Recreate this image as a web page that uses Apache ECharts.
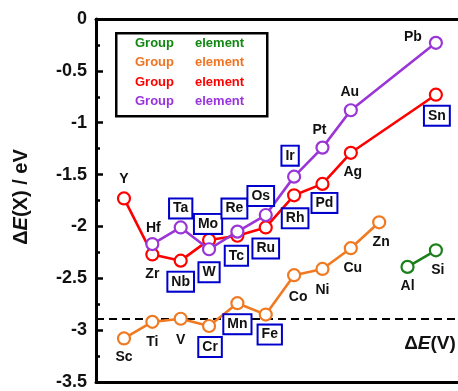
<!DOCTYPE html>
<html>
<head>
<meta charset="utf-8">
<script src="https://cdn.jsdelivr.net/npm/echarts@6/dist/echarts.min.js"></script>
<style>
  html, body { margin: 0; padding: 0; background: #fff; }
  #chart { width: 458px; height: 391px; }
</style>
</head>
<body>
<div id="chart"></div>
<script>
// Column index of each element (periodic-table group number)
const cols3d = [3, 4, 5, 6, 7, 8, 9, 10, 11, 12];
const names3d = ['Sc', 'Ti', 'V', 'Cr', 'Mn', 'Fe', 'Co', 'Ni', 'Cu', 'Zn'];
const values3d = [-3.08, -2.92, -2.89, -2.96, -2.74, -2.85, -2.47, -2.41, -2.21, -1.96];

const colsP = [13, 14];
const namesP = ['Al', 'Si'];
const valuesP = [-2.39, -2.23];

const cols4d = [3, 4, 5, 6, 7, 8, 9, 10, 11, 14];
const names4d = ['Y', 'Zr', 'Nb', 'Mo', 'Tc', 'Ru', 'Rh', 'Pd', 'Ag', 'Sn'];
const values4d = [-1.73, -2.27, -2.33, -2.13, -2.09, -2.01, -1.70, -1.59, -1.29, -0.73];

const cols5d = [4, 5, 6, 7, 8, 9, 10, 11, 14];
const names5d = ['Hf', 'Ta', 'W', 'Re', 'Os', 'Ir', 'Pt', 'Au', 'Pb'];
const values5d = [-2.17, -2.01, -2.22, -2.05, -1.89, -1.52, -1.24, -0.88, -0.23];

// Reference level ΔE(V)
const vacancyLevel = -2.89;

// Y-axis range
const yMin = -3.5, yMax = 0, yStep = 0.5;

// Element names drawn inside a blue frame
const framed = new Set(['Ta', 'Mo', 'Nb', 'W', 'Re', 'Tc', 'Os', 'Ru', 'Ir', 'Rh', 'Pd', 'Sn', 'Cr', 'Mn', 'Fe']);

// Label placement around each marker (pixels from the marker centre)
const labelNudge = {
  Y: [0, -19], Zr: [0, 20], Nb: [0, 21], Mo: [-1, -16], Tc: [-1, 20], Ru: [0, 21],
  Rh: [1, 23], Pd: [2, 19], Ag: [2, 19], Sn: [1, 21],
  Hf: [1, -16], Ta: [0, -19], W: [0, 23], Re: [-3, -23], Os: [-5, -19], Ir: [-4, -21],
  Pt: [-3, -17], Au: [-1, -18], Pb: [-23, -6],
  Sc: [0, 19], Ti: [0, 20], V: [0, 21], Cr: [1, 21], Mn: [0, 21], Fe: [4, 20],
  Co: [4, 22], Ni: [0, 21], Cu: [2, 20], Zn: [2, 20],
  Al: [0, 19], Si: [2, 20]
};

const FONT = '"Liberation Sans", Arial, Helvetica, sans-serif';

function buildData(cols, names, values) {
  return cols.map((c, i) => {
    const name = names[i];
    const boxed = framed.has(name);
    return {
      name: name,
      value: [c, values[i]],
      label: {
        show: true,
        position: 'inside',
        offset: labelNudge[name] || [0, 20],
        formatter: name,
        color: '#111',
        fontFamily: FONT,
        fontWeight: 'bold',
        fontSize: 14,
        lineHeight: 15,
        backgroundColor: boxed ? '#fff' : 'transparent',
        borderColor: boxed ? '#0000CC' : 'transparent',
        borderWidth: boxed ? 2 : 0,
        padding: boxed ? [2, 3, 1, 3] : 0
      }
    };
  });
}

function lineSeries(id, color, data, extra) {
  return Object.assign({
    id: id,
    type: 'line',
    data: data,
    symbol: 'circle',
    symbolSize: 12,
    showAllSymbol: true,
    lineStyle: { color: color, width: 2.6 },
    itemStyle: { color: '#fff', borderColor: color, borderWidth: 2.2 },
    emphasis: { disabled: true },
    animation: false,
    z: 3
  }, extra || {});
}

const COLORS = {
  green: '#1B801B',
  orange: '#F07A22',
  red: '#FF0000',
  purple: '#9A35D6'
};
const LEGEND_COLORS = ['#118811', '#F07422', '#FF0000', '#9933DD'];

const chart = echarts.init(document.getElementById('chart'), null, { renderer: 'canvas' });

const legendRows = LEGEND_COLORS.map((c, i) => [
  {
    type: 'text', left: 135, top: 37 + i * 19.3, z: 10,
    style: { text: 'Group', fill: c, font: 'bold 13px ' + FONT }
  },
  {
    type: 'text', left: 195, top: 37 + i * 19.3, z: 10,
    style: { text: 'element', fill: c, font: 'bold 13px ' + FONT }
  }
]).flat();

chart.setOption({
  animation: false,
  backgroundColor: '#fff',
  grid: { left: 96, right: 0, top: 19, bottom: 4 },
  xAxis: [
    {
      type: 'value', position: 'bottom', min: 2.013, max: 14.78,
      axisLine: { show: true, onZero: false, lineStyle: { color: '#000', width: 3 } },
      axisTick: { show: false }, axisLabel: { show: false }, splitLine: { show: false }
    },
    {
      type: 'value', position: 'top', min: 2.013, max: 14.78,
      axisLine: { show: true, onZero: false, lineStyle: { color: '#000', width: 3 } },
      axisTick: { show: false }, axisLabel: { show: false }, splitLine: { show: false }
    }
  ],
  yAxis: {
    type: 'value', min: yMin, max: yMax, interval: yStep,
    axisLine: { show: true, lineStyle: { color: '#000', width: 3 } },
    axisTick: { show: true, inside: true, length: 7, lineStyle: { color: '#000', width: 2.5 } },
    minorTick: { show: true, splitNumber: 2, length: 4, lineStyle: { color: '#000', width: 2.5 } },
    axisLabel: { color: '#111', fontFamily: FONT, fontWeight: 'bold', fontSize: 18, margin: 9 },
    splitLine: { show: false }
  },
  series: [
    // dashed ΔE(V) level, kept beneath the markers and framed labels
    {
      id: 'level',
      type: 'line',
      data: [],
      z: 1,
      silent: true,
      markLine: {
        z: 1,
        silent: true, symbol: 'none', animation: false,
        label: { show: false },
        lineStyle: { color: '#000', width: 2, type: [8, 5] },
        data: [{ yAxis: vacancyLevel }]
      }
    },
    lineSeries('d3', COLORS.orange, buildData(cols3d, names3d, values3d)),
    lineSeries('p', COLORS.green, buildData(colsP, namesP, valuesP)),
    lineSeries('d4', COLORS.red, buildData(cols4d, names4d, values4d)),
    lineSeries('d5', COLORS.purple, buildData(cols5d, names5d, values5d), { z: 4 })
  ],
  graphic: [
    {
      type: 'rect', left: 115, top: 32, z: 9,
      shape: { width: 151, height: 83 },
      style: { fill: '#fff', stroke: '#000', lineWidth: 2.5 }
    },
    ...legendRows,
    {
      type: 'text', x: 21, y: 197, rotation: Math.PI / 2, z: 10,
      style: {
        text: '{n|Δ}{i|E}{n|(X) / eV}',
        align: 'center', verticalAlign: 'middle',
        rich: {
          n: { fontFamily: FONT, fontWeight: 'bold', fontSize: 20, fill: '#111' },
          i: { fontFamily: FONT, fontWeight: 'bold', fontStyle: 'italic', fontSize: 20, fill: '#111' }
        }
      }
    },
    {
      type: 'text', x: 430, y: 344, z: 10,
      style: {
        text: '{n|Δ}{i|E}{n|(V)}',
        align: 'center', verticalAlign: 'middle',
        rich: {
          n: { fontFamily: FONT, fontWeight: 'bold', fontSize: 19, fill: '#111' },
          i: { fontFamily: FONT, fontWeight: 'bold', fontStyle: 'italic', fontSize: 19, fill: '#111' }
        }
      }
    }
  ]
});
</script>
</body>
</html>
